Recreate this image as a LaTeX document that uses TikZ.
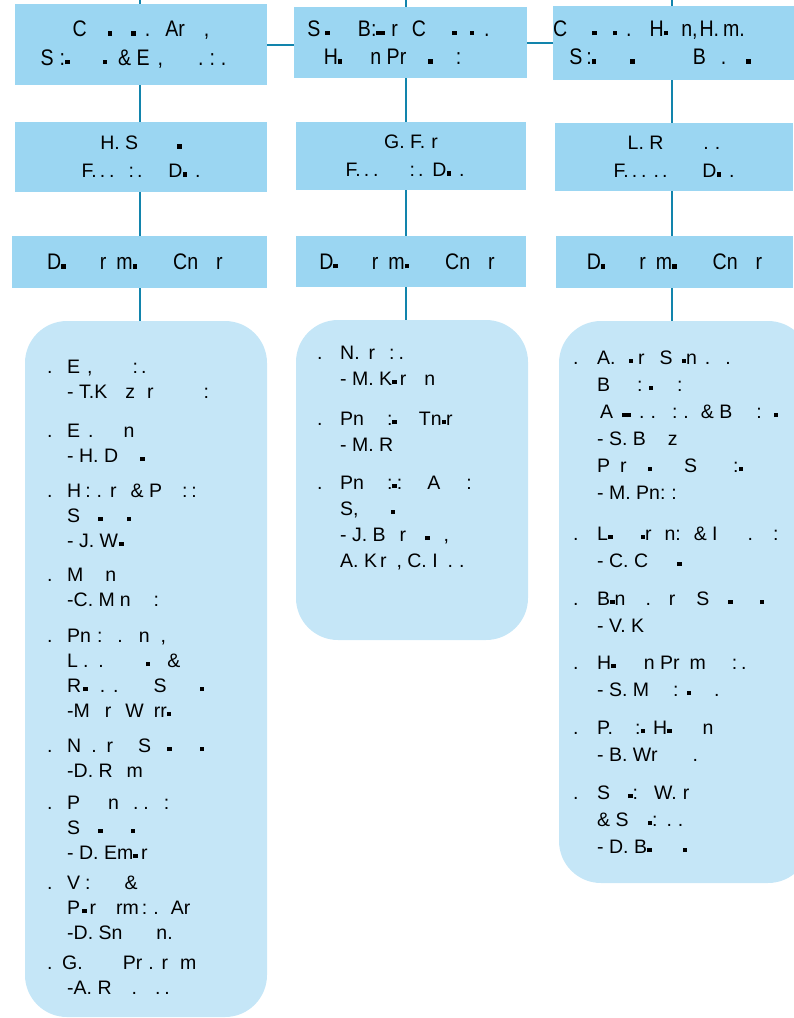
\documentclass[tikz,border=0pt]{standalone}
\usepackage{fontspec}
\setmainfont{Liberation Sans}
\newfontfamily\headfont{Liberation Sans}[FakeStretch=0.87]

\definecolor{headblue}{RGB}{155,214,242}
\definecolor{listblue}{RGB}{197,230,247}
\definecolor{linkblue}{RGB}{18,132,172}

\newlength{\bulw}
\newcommand{\gp}[1]{\hspace{#1pt}}
\newcommand{\blk}{\rule[1pt]{4.5pt}{4.5pt}}
\newcommand{\bul}{\rule{0pt}{15pt}\makebox[\bulw][l]{.}}
\newcommand{\ind}{\hspace*{\bulw}}

\tikzset{
  areabox/.style={fill=headblue, inner sep=0pt, align=center, font=\headfont\fontsize{22.5}{28.5}\selectfont},
  namebox/.style={fill=headblue, inner sep=0pt, align=center, font=\fontsize{19.5}{28}\selectfont},
  contactbox/.style={fill=headblue, inner sep=0pt, align=center, font=\headfont\fontsize{22.5}{27}\selectfont},
  listbox/.style={fill=listblue, rounded corners=42pt, inner sep=0pt},
  item/.style={anchor=north west, inner sep=0pt, align=left, font=\fontsize{19.5}{#1}\selectfont},
  link/.style={linkblue, line width=2pt}
}

\begin{document}
\begin{tikzpicture}[x=1pt,y=-1pt]
  \useasboundingbox (0,0) rectangle (793,1018);

  \coordinate (topA) at (140,0);
  \coordinate (topB) at (406,0);
  \coordinate (topC) at (672,0);

  % areas
  \node[areabox, minimum width=252pt, minimum height=81pt] (areaA) at (141,44.5)
    {C\gp{21}\blk\gp{19}\blk\gp{9}.\gp{15}Ar\gp{19},\\
     S\gp{6}:\blk\gp{33}\blk\gp{11}\& E\gp{8},\gp{35}.\gp{6}:\gp{6}.\hspace*{15pt}};
  \node[areabox, minimum width=233pt, minimum height=71pt] (areaB) at (410.5,42.5)
    {S\gp{5}\blk\gp{28}B:\blk\blk\gp{6}r\gp{14}C\gp{26}\blk\gp{13}\blk\gp{10}.\hspace*{24pt}\\
     H\blk\gp{28}n Pr\gp{22}\blk\gp{23}:\hspace*{36pt}};
  \node[areabox, minimum width=239pt, minimum height=74pt] (areaC) at (673.5,43)
    {C\gp{25}\blk\gp{16}\blk\gp{9}.\gp{18}H\blk\gp{13}n,\gp{2}H.\gp{4}m.\hspace*{49pt}\\
     S\gp{4}:\blk\gp{34}\blk\gp{58}B\gp{15}.\gp{20}\blk\hspace*{27pt}};

  % directors
  \node[namebox, minimum width=252pt, minimum height=70pt] (headA) at (141,157)
    {H. S\gp{39}\blk\\ F.\gp{3}.\gp{4}.\gp{14}:\gp{3}.\gp{26}D\blk\gp{8}.};
  \node[namebox, minimum width=230pt, minimum height=68pt] (headB) at (411,156)
    {G. F.\gp{6}r\\ F.\gp{3}.\gp{4}.\gp{31}:\gp{3}.\gp{9}D\blk\gp{8}.\hspace*{12pt}};
  \node[namebox, minimum width=238pt, minimum height=68pt] (headC) at (674,157)
    {L. R\gp{40}.\gp{6}.\\ F.\gp{3}.\gp{4}.\gp{7}.\gp{3}.\gp{35}D\blk\gp{8}.};

  % contacts
  \node[contactbox, minimum width=255pt, minimum height=52pt] (contactA) at (139.5,262)
    {D\blk\gp{34}r\gp{10}m\blk\gp{36}Cn\gp{18}r\hspace*{9pt}};
  \node[contactbox, minimum width=230pt, minimum height=51pt] (contactB) at (411,261.5)
    {D\blk\gp{34}r\gp{10}m\blk\gp{36}Cn\gp{18}r\hspace*{8pt}};
  \node[contactbox, minimum width=237pt, minimum height=52pt] (contactC) at (674.5,262)
    {D\blk\gp{34}r\gp{10}m\blk\gp{36}Cn\gp{18}r};

  % lists
  \node[listbox, minimum width=242pt, minimum height=696pt] (listA) at (146,669) {};
  \node[listbox, minimum width=232pt, minimum height=320pt] (listB) at (412,480) {};
  \node[listbox, minimum width=251pt, minimum height=562pt] (listC) at (684.5,602) {};

  % connectors
  \draw[link] (topA) -- (topA |- areaA.north);
  \draw[link] (topB) -- (topB |- areaB.north);
  \draw[link] (topC) -- (topC |- areaC.north);
  \draw[link] (areaA.east) -- (areaA.east -| areaB.west);
  \draw[link] (areaB.east) -- (areaB.east -| areaC.west);
  \foreach \c/\n in {A/topA, B/topB, C/topC} {
    \draw[link] (\n |- area\c.south) -- (\n |- head\c.north);
    \draw[link] (\n |- head\c.south) -- (\n |- contact\c.north);
    \draw[link] (\n |- contact\c.south) -- (\n |- list\c.north);
  }

  % first list
  \setlength{\bulw}{20pt}
  \node[item=25] (itemA1) at (47,358) {\bul E\gp{7},\gp{40}:\gp{3}.\\\ind - T.K\gp{18}z\gp{12}r\gp{50}:};
  \node[item=25] (itemA2) at (47,422) {\bul E\gp{8}.\gp{30}n\\\ind - H. D\gp{22}\blk};
  \node[item=25] (itemA3) at (47,482) {\bul H\gp{4}:\gp{6}.\gp{8}r\gp{14}\& P\gp{20}:\gp{4}:\\\ind S\gp{18}\blk\gp{24}\blk\\\ind - J. W\gp{1}\blk};
  \node[item=25] (itemA4) at (47,566) {\bul M\gp{22}n\\\ind -C. M\gp{5}n\gp{23}:};
  \node[item=25] (itemA5) at (47,627) {\bul Pn\gp{6}:\gp{15}.\gp{16}n\gp{11},\\\ind L\gp{5}.\gp{10}.\gp{42}\blk\gp{17}\&\\\ind R\gp{2}\blk\gp{12}.\gp{8}.\gp{35}S\gp{33}\blk\\\ind -M\gp{15}r\gp{14}W\gp{10}rr\blk};
  \node[item=25] (itemA6) at (47,737) {\bul N\gp{10}.\gp{10}r\gp{25}S\gp{16}\blk\gp{28}\blk\\\ind -D. R\gp{14}m};
  \node[item=25] (itemA7) at (47,794) {\bul P\gp{28}n\gp{14}.\gp{5}.\gp{15}:\\\ind S\gp{18}\blk\gp{28}\blk\\\ind - D. Em\blk\,r};
  \node[item=25] (itemA8) at (47,874) {\bul V\gp{5}:\gp{34}\&\\\ind P\gp{2}\blk\gp{3}r\gp{20}rm\gp{3}:\gp{6}.\gp{12}Ar\\\ind -D. Sn\gp{34}n.};
  \node[item=25] (itemA9) at (47,954) {\bul\hspace*{-5pt}G.\gp{40}Pr\gp{6}.\gp{8}r\gp{12}m\\\ind -A. R\gp{20}.\gp{18}.\gp{4}.};

  % second list
  \setlength{\bulw}{23pt}
  \node[item=26] (itemB1) at (317,344) {\bul N.\gp{9}r\gp{14}:\gp{4}.\\\ind - M. K\blk\,r\gp{18}n};
  \node[item=26] (itemB2) at (317,410) {\bul Pn\gp{23}:\blk\gp{22}Tn\blk r\\\ind - M. R};
  \node[item=26] (itemB3) at (317,474) {\bul Pn\gp{23}:\blk:\gp{25}A\gp{26}:\\\ind S,\gp{32}\blk\\\ind - J. B\gp{14}r\gp{19}\blk\gp{14},\\\ind A. K\gp{3}r\gp{10}, C. I\gp{10}.\gp{6}.};

  % third list
  \setlength{\bulw}{24pt}
  \node[item=27] (itemC1) at (573,349) {\bul A.\gp{13}\blk\gp{5}r\gp{15}S\gp{9}\blk n\gp{8}.\gp{15}.\\\ind B\gp{27}:\gp{6}\blk\gp{24}:\\\ind\hspace*{3pt}A\gp{9}\blk\blk\gp{8}.\gp{6}.\gp{16}:\gp{6}.\gp{12}\& B\gp{24}:\gp{12}\blk\\\ind - S. B\gp{22}z\\\ind P\gp{10}r\gp{21}\blk\gp{32}S\gp{36}:\blk\\\ind - M. Pn:\gp{6}:};
  \node[item=27] (itemC2) at (573,525) {\bul L\blk\gp{28}\blk r\gp{13}n:\gp{13}\& I\gp{30}.\gp{20}:\\\ind - C. C\gp{29}\blk};
  \node[item=27] (itemC3) at (573,590) {\bul B\blk n\gp{20}.\gp{18}r\gp{21}S\gp{19}\blk\gp{27}\blk\\\ind - V. K};
  \node[item=27] (itemC4) at (573,654) {\bul H\blk\gp{28}n Pr\gp{10}m\gp{26}:\gp{4}.\\\ind - S. M\gp{24}:\gp{8}\blk\gp{23}.};
  \node[item=27] (itemC5) at (573,719) {\bul P.\gp{22}:\blk\gp{8}H\blk\gp{31}n\\\ind - B. Wr\gp{35}.};
  \node[item=27] (itemC6) at (573,784) {\bul S\gp{18}\blk:\gp{16}W.\gp{6}r\\\ind\& S\gp{19}\blk:\gp{9}.\gp{6}.\\\ind - D. B\blk\gp{31}\blk};

\end{tikzpicture}
\end{document}
